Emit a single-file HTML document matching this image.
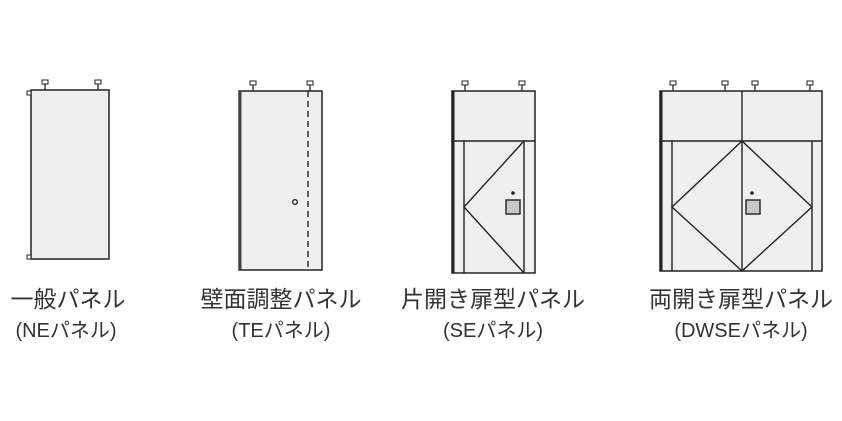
<!DOCTYPE html>
<html><head><meta charset="utf-8"><style>
body{margin:0;background:#fff;width:842px;height:421px;overflow:hidden}
svg{position:absolute;left:0;top:0}
.t{font-family:"Liberation Sans","Noto Sans CJK JP",sans-serif;fill:#333;text-anchor:middle}
</style></head><body>
<svg width="842" height="421" viewBox="0 0 842 421">
<defs>
<g id="h"><line x1="0" y1="82" x2="0" y2="90" stroke="#222" stroke-width="1.3"/><rect x="-3" y="80" width="6" height="4" fill="#fff" stroke="#222" stroke-width="1"/></g>
</defs>
<g fill="#efefef" stroke="#222" stroke-width="1.5">
<rect x="31" y="90" width="78" height="169"/>
<rect x="27" y="91" width="4" height="4" fill="#fff" stroke-width="1"/>
<rect x="27" y="255" width="4" height="4" fill="#fff" stroke-width="1"/>
<rect x="239" y="91" width="83" height="179"/>
<rect x="452" y="91" width="83" height="182"/>
<rect x="660" y="91" width="162" height="180"/>
</g>
<use href="#h" x="45" y="0"/><use href="#h" x="98" y="0"/>
<use href="#h" x="253" y="1"/><use href="#h" x="310" y="1"/>
<use href="#h" x="465" y="1"/><use href="#h" x="522" y="1"/>
<use href="#h" x="673" y="1"/><use href="#h" x="725" y="1"/><use href="#h" x="755" y="1"/><use href="#h" x="810" y="1"/>
<g stroke="#222" fill="none" stroke-width="1.4">
<line x1="240" y1="91" x2="240" y2="270" stroke-width="3" stroke="#444"/>
<line x1="308" y1="91" x2="308" y2="270" stroke-dasharray="6,4"/>
<circle cx="295" cy="202" r="2.3" fill="#fff"/>
<line x1="453" y1="91" x2="453" y2="273" stroke-width="3"/>
<line x1="452" y1="141" x2="535" y2="141"/>
<line x1="464" y1="141" x2="464" y2="273"/>
<line x1="524" y1="141" x2="524" y2="273"/>
<polyline points="524,141 464,207 524,273"/>
<rect x="506" y="200" width="14" height="14" fill="#c8c8c8"/>
<line x1="661" y1="91" x2="661" y2="271" stroke-width="3"/>
<line x1="660" y1="141" x2="822" y2="141"/>
<line x1="742" y1="91" x2="742" y2="271"/>
<line x1="672" y1="141" x2="672" y2="271"/>
<line x1="812" y1="141" x2="812" y2="271"/>
<polygon points="742,141 672,207 742,271 812,207"/>
<rect x="746" y="200" width="14" height="14" fill="#c8c8c8"/>
</g>
<circle cx="513" cy="193" r="1.8" fill="#222"/>
<circle cx="752" cy="193" r="1.8" fill="#222"/>
<g class="t" font-size="23">
<text x="68" y="307">一般パネル</text>
<text x="281" y="307">壁面調整パネル</text>
<text x="493" y="307">片開き扉型パネル</text>
<text x="741" y="307">両開き扉型パネル</text>
</g>
<g class="t" font-size="20">
<text x="66" y="337">(NEパネル)</text>
<text x="281" y="337">(TEパネル)</text>
<text x="493" y="337">(SEパネル)</text>
<text x="741" y="337">(DWSEパネル)</text>
</g>
</svg>
</body></html>
